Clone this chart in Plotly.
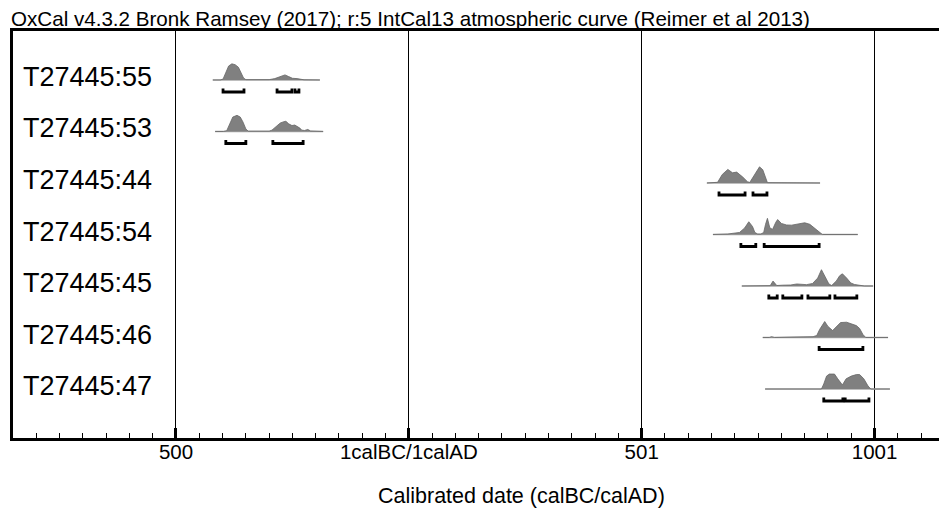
import plotly.graph_objects as go

# ---------------- data ----------------
labels = ["T27445:55", "T27445:53", "T27445:44", "T27445:54",
          "T27445:45", "T27445:46", "T27445:47"]

# years: negative = calBC, 0 = 1calBC/1calAD boundary
yrs_55 = [-421, -405, -399, -393, -387, -380, -373, -366, -360, -355, -350, -300,
          -288, -276, -266, -258, -250, -240, -232, -225, -191]
p_55 = [0, 0, 0.05, 0.45, 0.82, 0.95, 0.9, 0.75, 0.45, 0.12, 0.02, 0.02,
        0.08, 0.18, 0.3, 0.2, 0.1, 0.08, 0.05, 0.01, 0]

yrs_53 = [-416, -398, -391, -385, -378, -369, -362, -356, -350, -345, -300, -294,
          -285, -276, -268, -264, -258, -251, -245, -240, -234, -230, -224, -217,
          -211, -184]
p_53 = [0, 0, 0.05, 0.4, 0.85, 0.95, 0.85, 0.55, 0.15, 0.02, 0.02, 0.08,
        0.3, 0.5, 0.58, 0.6, 0.45, 0.35, 0.38, 0.32, 0.2, 0.08, 0.06, 0.12,
        0.03, 0]

yrs_44 = [640, 658, 663, 673, 685, 695, 704, 717, 727, 732, 738, 747, 753, 760,
          766, 770, 883]
p_44 = [0, 0, 0.04, 0.5, 0.8, 0.6, 0.64, 0.35, 0.08, 0.03, 0.3, 0.72, 0.95, 0.78,
        0.3, 0.02, 0]

yrs_54 = [653, 685, 710, 721, 730, 738, 743, 749, 756, 762, 766, 770, 775, 781,
          788, 792, 800, 811, 822, 833, 850, 861, 872, 882, 888, 964]
p_54 = [0, 0.03, 0.12, 0.38, 0.75, 0.47, 0.12, 0.03, 0.03, 0.12, 0.6, 0.95, 0.4, 0.3,
        0.72, 0.88, 0.65, 0.56, 0.55, 0.6, 0.69, 0.6, 0.35, 0.12, 0, 0]

yrs_45 = [715, 770, 776, 782, 790, 803, 820, 833, 854, 867, 878, 886, 895, 902,
          908, 918, 925, 931, 940, 949, 957, 968, 978, 997]
p_45 = [0, 0, 0.02, 0.29, 0.03, 0.05, 0.06, 0.12, 0.08, 0.15, 0.47, 0.96, 0.47, 0.12,
        0.03, 0.3, 0.6, 0.72, 0.47, 0.18, 0.09, 0.03, 0, 0]

yrs_46 = [760, 774, 779, 785, 825, 840, 868, 876, 882, 893, 900, 910, 918, 927,
          940, 951, 961, 968, 975, 981, 1029]
p_46 = [0, 0, 0.05, 0, 0.03, 0.05, 0.05, 0.12, 0.47, 0.94, 0.65, 0.41, 0.65, 0.88,
        0.9, 0.8, 0.7, 0.53, 0.18, 0, 0]

yrs_47 = [765, 886, 891, 897, 903, 914, 921, 931, 939, 950, 961, 968, 977, 986,
          992, 1033]
p_47 = [0, 0, 0.3, 0.76, 0.88, 0.88, 0.6, 0.24, 0.6, 0.76, 0.85, 0.85, 0.6, 0.18,
        0, 0]

# 95.4% ranges (brackets)
rng_55 = [(-399, -354), (-283, -251), (-244.5, -236)]
rng_53 = [(-393, -350), (-292, -227)]
rng_44 = [(666, 722), (739, 769)]
rng_54 = [(713, 745), (763, 881)]
rng_45 = [(773, 791), (803, 844), (857, 904), (915, 962)]
rng_46 = [(881, 975)]
rng_47 = [(891, 932), (937, 988)]

tick_vals = [-500, 0, 500, 1000]
tick_text = ["500", "1calBC/1calAD", "501", "1001"]

title_text = "OxCal v4.3.2 Bronk Ramsey (2017); r:5 IntCal13 atmospheric curve (Reimer et al 2013)"
x_title = "Calibrated date (calBC/calAD)"

curves = [(yrs_55, p_55), (yrs_53, p_53), (yrs_44, p_44), (yrs_54, p_54),
          (yrs_45, p_45), (yrs_46, p_46), (yrs_47, p_47)]
ranges = [rng_55, rng_53, rng_44, rng_54, rng_45, rng_46, rng_47]

# ---------------- styling ----------------
H_SCALE = 0.33      # row units per unit probability
BR_OFF = 0.233      # bracket offset below baseline
BR_TIP = 0.07       # bracket end tip height
FONT = "Arial, Liberation Sans, sans-serif"

fig = go.Figure()

for i, ((xs, ps), rgs) in enumerate(zip(curves, ranges)):
    # baseline
    fig.add_trace(go.Scatter(x=[xs[0], xs[-1]], y=[i, i], mode="lines",
                             line=dict(color="#a9a9a9", width=1.3),
                             hoverinfo="skip", showlegend=False))
    # probability distribution
    fig.add_trace(go.Scatter(x=xs, y=[i - H_SCALE * p for p in ps], mode="lines",
                             fill="toself", fillcolor="#808080",
                             line=dict(color="#666666", width=0.8),
                             hoverinfo="skip", showlegend=False))
    # brackets
    bx, by = [], []
    for a, b in rgs:
        yb = i + BR_OFF
        bx += [a, a, b, b, None]
        by += [yb - BR_TIP, yb, yb, yb - BR_TIP, None]
    fig.add_trace(go.Scatter(x=bx, y=by, mode="lines",
                             line=dict(color="black", width=2.8),
                             hoverinfo="skip", showlegend=False))

annotations = []
for i, lab in enumerate(labels):
    annotations.append(dict(text=lab, xref="paper", x=0.0086, xanchor="left",
                            yref="y", y=i, yanchor="middle", yshift=3,
                            showarrow=False,
                            font=dict(family=FONT, size=27, color="black")))
annotations.append(dict(text="<u>" + title_text + "</u>", xref="paper", x=-0.0043,
                        xanchor="left", yref="paper", y=1, yanchor="bottom",
                        yshift=-1, showarrow=False,
                        font=dict(family=FONT, size=20.6, color="black")))
annotations.append(dict(text=x_title, xref="x", x=241, xanchor="center",
                        yref="paper", y=0, yanchor="middle", yshift=-58,
                        showarrow=False,
                        font=dict(family=FONT, size=21.5, color="black")))

fig.update_layout(
    width=939, height=504,
    margin=dict(l=5, r=0, t=23, b=74),
    paper_bgcolor="white", plot_bgcolor="white",
    annotations=annotations,
    xaxis=dict(range=[-850, 1155.6], tickmode="array", tickvals=tick_vals,
               ticktext=tick_text, ticks="inside", ticklen=10, tickwidth=3,
               tickcolor="black", showgrid=True, gridcolor="black", gridwidth=1,
               zeroline=False, showline=True, linecolor="black", linewidth=2.5,
               mirror=True, ticklabelstandoff=-6,
               tickfont=dict(family=FONT, size=20.5, color="black"),
               minor=dict(tickmode="linear", tick0=0, dtick=50, ticks="inside",
                          ticklen=5, tickwidth=1.3, tickcolor="black",
                          showgrid=False)),
    yaxis=dict(range=[6.951, -0.951], showticklabels=False, ticks="",
               showgrid=False, zeroline=False, showline=True,
               linecolor="black", linewidth=3, mirror=False),
)

fig.write_html("out.html")
